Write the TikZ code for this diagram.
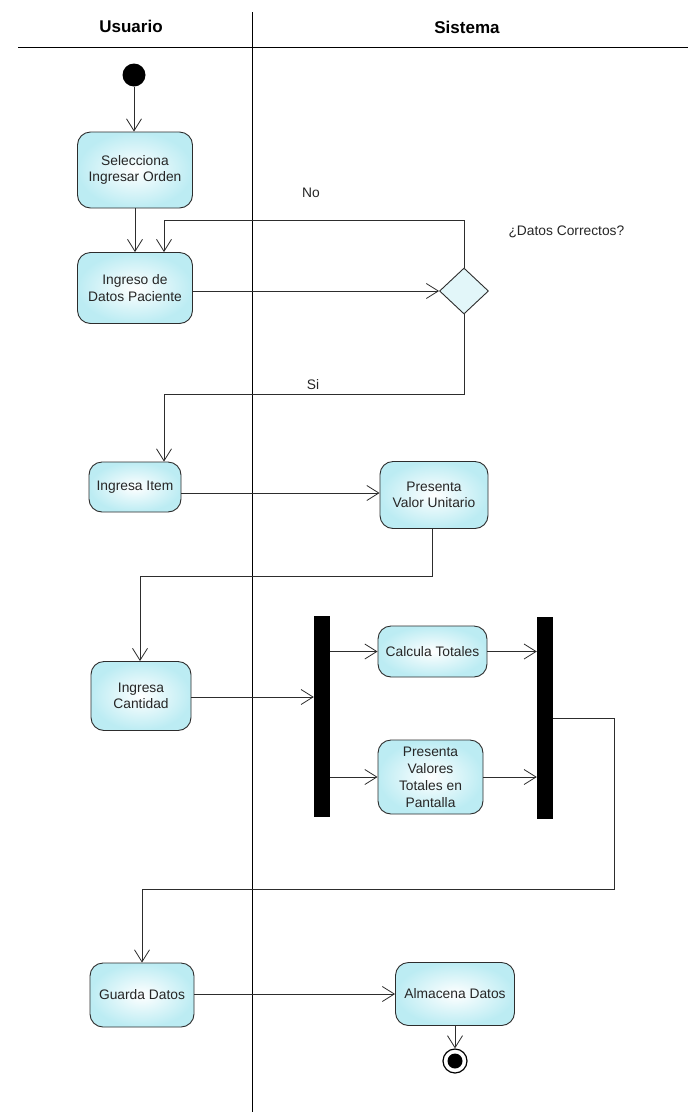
\documentclass[tikz,border=0pt]{standalone}
\usepackage{fontspec}
\setmainfont{Liberation Sans}
\usetikzlibrary{arrows.meta,shapes.geometric}
\definecolor{actfill}{RGB}{188,236,243}
\definecolor{decfill}{RGB}{226,246,249}
\definecolor{edge}{RGB}{45,45,45}
\tikzset{
  act/.style={draw=edge, line width=0.9pt, rounded corners=13pt, inner color=white, outer color=actfill,
    align=center, font=\fontsize{13.8}{16.5}\selectfont, text=black!85},
  bar/.style={fill=black, draw=none, minimum width=16pt, inner sep=0pt},
  arr/.style={draw=edge, line width=0.8pt, -{Straight Barb[length=12pt,width=15pt,line width=0.8pt]}},
  lane/.style={draw=black, line width=0.9pt},
  lbl/.style={font=\fontsize{13.8}{16}\selectfont, text=black!85},
  hdr/.style={font=\fontsize{17}{19}\selectfont\bfseries, text=black}
}
\begin{document}
\begin{tikzpicture}[x=1pt,y=-1pt]
\useasboundingbox[fill=white] (0,0) rectangle (688,1112);
% swimlanes
\draw[lane] (18,47) -- (688,47);
\draw[lane] (252,12) -- (252,1112);
\node[hdr] (husr) at (131,26) {Usuario};
\node[hdr] (hsis) at (467,27) {Sistema};
% nodes
\node[circle, fill=black, minimum size=23pt, inner sep=0pt] (start) at (134,75) {};
\node[act, minimum width=115pt, minimum height=76pt] (sel) at (135,170) {Selecciona\\Ingresar Orden};
\node[act, minimum width=115pt, minimum height=71pt] (ing) at (135,288) {Ingreso de\\Datos Paciente};
\node[diamond, draw=edge, line width=0.9pt, fill=decfill, minimum width=49pt, minimum height=46pt, inner sep=0pt] (dec) at (464,291) {};
\node[lbl, anchor=west] (dlab) at (505,232) {¿Datos Correctos?};
\node[act, minimum width=92pt, minimum height=50pt] (item) at (135,487) {Ingresa Item};
\node[act, minimum width=108pt, minimum height=67pt] (pvu) at (434,495) {Presenta\\Valor Unitario};
\node[act, minimum width=100pt, minimum height=69pt] (cant) at (141,696) {Ingresa\\Cantidad};
\node[bar, minimum height=201pt] (bar1) at (322,716.5) {};
\node[bar, minimum height=202pt] (bar2) at (545,718) {};
\node[act, minimum width=109pt, minimum height=51pt] (calc) at (432.5,651.5) {Calcula Totales};
\node[act, minimum width=105pt, minimum height=74pt, inner sep=1pt, font=\fontsize{13.8}{17}\selectfont] (pres) at (430.5,777) {Presenta\\Valores\\Totales en\\Pantalla};
\node[act, minimum width=104pt, minimum height=64pt] (guarda) at (142,995) {Guarda Datos};
\node[act, minimum width=119pt, minimum height=63pt] (alma) at (455,994) {Almacena Datos};
\node[circle, draw=black, line width=1.2pt, fill=white, minimum size=24pt, inner sep=0pt] (final) at (455,1061) {};
\node[circle, fill=black, minimum size=15pt, inner sep=0pt] (finali) at (final.center) {};
% guard labels
\node[lbl] (no) at (311,193) {No};
\node[lbl] (si) at (313,385) {Si};
% helper coordinates
\coordinate (noc) at (164,220);
\coordinate (sic) at (164,394);
\coordinate (c1) at (140,576);
\coordinate (j1) at (614,889);
% connectors
\draw[arr] (start) -- (start |- sel.north);
\draw[arr] (sel) -- (ing);
\draw[arr] (ing.east |- dec.west) -- (dec.west);
\draw[arr] (dec.north) |- (noc) -- (noc |- ing.north);
\draw[arr] (dec.south) |- (sic) -- (sic |- item.north);
\draw[arr] (item.east |- 0,493) -- (pvu.west |- 0,493);
\draw[arr] (pvu.south -| 432,0) |- (c1) -- (c1 |- cant.north);
\draw[arr] (cant.east |- 0,697) -- (bar1.west |- 0,697);
\draw[arr] (bar1.east |- calc.west) -- (calc.west);
\draw[arr] (bar1.east |- pres.west) -- (pres.west);
\draw[arr] (calc.east) -- (bar2.west |- calc.east);
\draw[arr] (pres.east) -- (bar2.west |- pres.east);
\draw[arr] (bar2.east) -| (j1) -| (guarda.north);
\draw[arr] (guarda.east |- alma.west) -- (alma.west);
\draw[arr] (alma.south) -- (final.north);
\end{tikzpicture}
\end{document}
